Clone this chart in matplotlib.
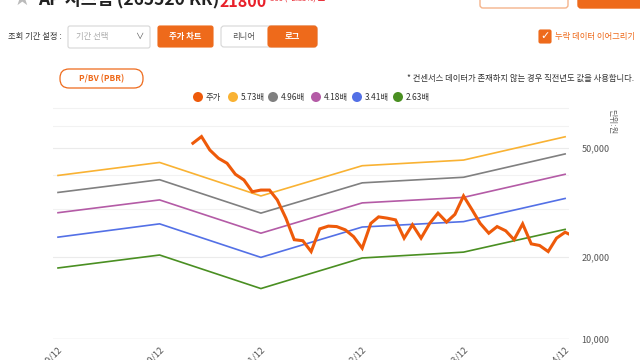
import numpy as np
import pandas as pd
import matplotlib
matplotlib.use("Agg")
import matplotlib.pyplot as plt
import matplotlib.dates as mdates
from matplotlib.patches import FancyBboxPatch, Rectangle, Circle
from matplotlib.ticker import FixedLocator, FuncFormatter, NullFormatter

plt.rcParams['font.family'] = ['Noto Sans CJK KR', 'DejaVu Sans']

# PBR band data (year-end points)
band_dates = pd.to_datetime(["2019-12-31", "2020-12-31", "2021-12-31",
                             "2022-12-31", "2023-12-31", "2024-12-31"])
band_labels = ["5.73배", "4.96배", "4.18배", "3.41배", "2.63배"]
band_573 = [39700, 44300, 33400, 43100, 45200, 55000]
band_496 = [34400, 38300, 28900, 37300, 39100, 47600]
band_418 = [29000, 32300, 24400, 31500, 33000, 40100]
band_341 = [23600, 26400, 19900, 25700, 26900, 32700]
band_263 = [18200, 20300, 15300, 19800, 20800, 25200]
band_colors = ["#F9B233", "#808080", "#B45BA6", "#5370E6", "#4A8F22"]

# monthly close price
price_dates = list(pd.date_range("2021-04-30", periods=45, freq="ME")) + [pd.Timestamp("2025-01-11")]
price = [52100, 55100, 49200, 45900, 44000, 40100, 38200, 34600, 35100, 35100,
         32300, 27700, 23100, 22900, 20900, 25300, 25900, 25800, 25100, 23700,
         21500, 26500, 28000, 27700, 27300, 23400, 26200, 23400, 26500, 28900,
         26800, 28600, 33400, 29700, 26500, 24400, 25800, 24900, 23100, 26400,
         22300, 22000, 20900, 23400, 24600, 24300]
price_color = "#EE5A0A"
orange = "#EE6A1B"

fig = plt.figure(figsize=(6.4, 3.6), dpi=100)

# overlay in pixel units for the page widgets
ui = fig.add_axes([0, 0, 1, 1], zorder=0)
ui.set_xlim(0, 640)
ui.set_ylim(360, 0)
ui.axis("off")

# header (cut off at top)
ui.text(22, -1, "★", color="#bbbbbb", fontsize=12, ha="center", va="center")
ui.text(38, -1, "AP 시스템 (265520 KR)", fontsize=12.5, fontweight="bold", color="#222222", va="center")
ui.text(220, 2, "21800", fontsize=11.5, fontweight="bold", color="#E8202A", va="center")
ui.text(266, -1, "+500 (+2.35%) ▲", fontsize=5.5, color="#E8202A", va="center")
ui.add_patch(FancyBboxPatch((480, -20), 88, 28, boxstyle="round,pad=0,rounding_size=3",
                            fc="white", ec="#F4B48C", lw=1))
ui.add_patch(FancyBboxPatch((578, -20), 70, 28, boxstyle="round,pad=0,rounding_size=3",
                            fc=orange, ec=orange, lw=1))

# controls row
ui.text(8, 37, "조회 기간 설정 :", fontsize=6, color="#333333", va="center")
ui.add_patch(FancyBboxPatch((68, 26), 82, 22, boxstyle="round,pad=0,rounding_size=2",
                            fc="white", ec="#d6d6d6", lw=0.8))
ui.text(76, 37, "기간 선택", fontsize=6, color="#aaaaaa", va="center")
ui.text(139, 36, "∨", fontsize=6, color="#555555", va="center", ha="center")
ui.add_patch(FancyBboxPatch((158, 26), 55, 21, boxstyle="round,pad=0,rounding_size=2",
                            fc=orange, ec=orange, lw=0.8))
ui.text(185.5, 36.5, "주가 차트", fontsize=6, color="white", fontweight="bold", va="center", ha="center")
ui.add_patch(FancyBboxPatch((221, 26), 96, 21, boxstyle="round,pad=0,rounding_size=3",
                            fc="white", ec="#d6d6d6", lw=0.8))
ui.add_patch(FancyBboxPatch((268, 26), 49, 21, boxstyle="round,pad=0,rounding_size=3",
                            fc=orange, ec=orange, lw=0.8))
ui.text(244, 36.5, "리니어", fontsize=6, color="#555555", va="center", ha="center")
ui.text(292, 36.5, "로그", fontsize=6, color="white", fontweight="bold", va="center", ha="center")
ui.add_patch(FancyBboxPatch((539, 30), 12, 13, boxstyle="round,pad=0,rounding_size=1.5",
                            fc=orange, ec=orange, lw=0.8))
ui.text(545, 36.5, "✓", fontsize=8, color="white", fontweight="bold", va="center", ha="center",
        family=["DejaVu Sans"])
ui.text(555, 36.5, "누락 데이터 이어그리기", fontsize=6, color=orange, va="center")

# PBR button and note
ui.add_patch(FancyBboxPatch((60, 69), 83, 19, boxstyle="round,pad=0,rounding_size=9",
                            fc="white", ec=orange, lw=0.9))
ui.text(101.5, 78.5, "P/BV (PBR)", fontsize=6, color=orange, fontweight="bold", va="center", ha="center")
ui.text(634, 78, "* 컨센서스 데이터가 존재하지 않는 경우 직전년도 값을 사용합니다.", fontsize=6,
        color="#333333", va="center", ha="right")

# legend
legend_items = [("주가", price_color, 198), (band_labels[0], band_colors[0], 233),
                (band_labels[1], band_colors[1], 273), (band_labels[2], band_colors[2], 316),
                (band_labels[3], band_colors[3], 357), (band_labels[4], band_colors[4], 398)]
for lab, col, cx in legend_items:
    ui.add_patch(Circle((cx, 97), 5, fc=col, ec="none"))
    ui.text(cx + 8, 97.5, lab, fontsize=6, color="#333333", va="center")

ui.text(612, 122, "단위:원", fontsize=6, color="#666666", rotation=270, va="center", ha="center")

# main chart
ax = fig.add_axes([53 / 640, 1 - 339 / 360, (569 - 53) / 640, (339 - 100) / 360], zorder=1)
ax.patch.set_alpha(0)
ax.set_yscale("log")
ax.set_ylim(10000, 75000)
ax.set_xlim(pd.Timestamp("2019-12-13"), pd.Timestamp("2025-01-14"))

for y in [30000, 40000, 60000, 70000]:
    ax.axhline(y, color="#f2f2f2", lw=0.8, zorder=0)
for y in [20000, 50000]:
    ax.axhline(y, color="#ebebeb", lw=0.8, zorder=0)
ax.axhline(10000, color="#dddddd", lw=1.0, zorder=0)

for vals, col in zip([band_573, band_496, band_418, band_341, band_263], band_colors):
    ax.plot(band_dates, vals, color=col, lw=1.2, zorder=2)
ax.plot(price_dates, price, color=price_color, lw=2.2, zorder=3, solid_joinstyle="miter")

ax.yaxis.tick_right()
ax.yaxis.set_major_locator(FixedLocator([10000, 20000, 50000]))
ax.yaxis.set_major_formatter(FuncFormatter(lambda v, p: f"{int(v):,}"))
ax.yaxis.set_minor_formatter(NullFormatter())
ax.tick_params(axis="y", which="both", length=0, pad=9, labelsize=6.5, labelcolor="#555555")

ax.set_xticks(band_dates)
ax.xaxis.set_major_formatter(mdates.DateFormatter("%Y/%m"))
ax.tick_params(axis="x", length=0, pad=4, labelsize=6.5, labelcolor="#555555")
for lab in ax.get_xticklabels():
    lab.set_rotation(45)
    lab.set_ha("right")
    lab.set_rotation_mode("anchor")

for s in ax.spines.values():
    s.set_visible(False)

fig.savefig("out.png", dpi=100)
